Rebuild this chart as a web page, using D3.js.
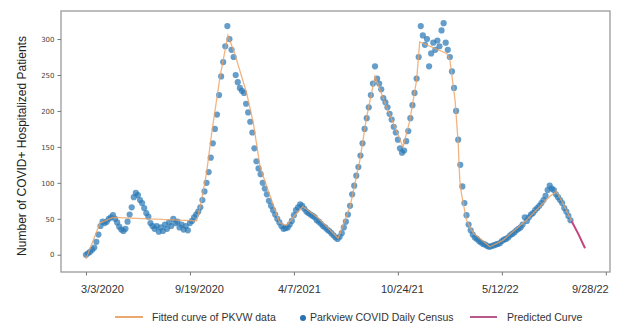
<!DOCTYPE html>
<html>
<head>
<meta charset="utf-8">
<script src="https://cdn.jsdelivr.net/npm/d3@7"></script>
<style>
  html, body { margin: 0; padding: 0; background: #fff; }
  #container { width: 621px; height: 328px; }
</style>
</head>
<body>
<div id="container"></div>
<script>
const width = 621, height = 328;

// --- Data: day index since 3/3/2020 ---
const tickDays = [0, 200, 400, 600, 800, 1000];
const tickLabels = ["3/3/2020", "9/19/2020", "4/7/2021", "10/24/21", "5/12/22", "9/28/22"];
const yTicks = [0, 50, 100, 150, 200, 250, 300];

// Parkview COVID daily census, sampled every 4 days (day 0 .. 932)
const censusStep = 4;
const census = [
  0, 2, 4, 7, 10, 18, 28, 40, 46, 44,
  46, 50, 52, 55, 50, 45, 39, 35, 33, 36,
  46, 56, 66, 80, 86, 83, 76, 72, 65, 58,
  53, 44, 40, 36, 40, 32, 38, 33, 42, 36,
  45, 40, 50, 44, 46, 38, 42, 35, 40, 34,
  44, 47, 52, 56, 60, 66, 76, 88, 100, 115,
  135, 155, 175, 195, 222, 248, 268, 290, 318, 300,
  285, 275, 250, 240, 232, 228, 225, 210, 198, 185,
  170, 148, 130, 120, 112, 100, 92, 84, 75, 68,
  62, 56, 50, 45, 40, 36, 37, 38, 42, 47,
  55, 62, 66, 70, 68, 64, 60, 58, 56, 54,
  52, 48, 46, 43, 40, 38, 35, 33, 30, 27,
  24, 22, 25, 30, 38, 46, 56, 68, 84, 96,
  110, 122, 138, 155, 175, 190, 205, 222, 238, 262,
  245, 238, 230, 218, 212, 205, 196, 188, 178, 170,
  160, 148, 142, 145, 158, 172, 190, 208, 225, 245,
  275, 318, 305, 292, 300, 262, 280, 295, 285, 298,
  290, 312, 322, 295, 285, 275, 255, 232, 200, 160,
  125, 95, 72, 55, 42, 34, 28, 24, 22, 19,
  17, 15, 14, 12, 11, 12, 13, 14, 15, 16,
  19, 21, 22, 24, 27, 29, 31, 34, 36, 38,
  42, 52, 47, 52, 56, 58, 62, 65, 68, 72,
  76, 82, 90, 96, 92, 90, 84, 80, 76, 72,
  65, 60, 54, 48
];

// Fitted curve of PKVW data (knots: day, patients)
const fitDays = [0, 27, 52, 213, 222, 232, 242, 258, 273, 286, 309, 322, 335, 350, 373, 386, 417, 444, 485, 508, 527, 540, 556, 578, 610, 623, 636, 642, 694, 700, 710, 716, 719, 722, 732, 745, 777, 802, 847, 892, 905, 918, 934];
const fitVals = [-6, 44, 52, 47, 75, 114, 170, 248, 305, 280, 225, 183, 122, 90, 44, 41, 67, 53, 23, 67, 132, 192, 248, 206, 150, 187, 243, 296, 280, 271, 215, 155, 104, 86, 48, 30, 11, 20, 48, 81, 88, 71, 47];

// Predicted curve
const predDays = [934, 947, 960];
const predVals = [47, 29, 9];

// --- Layout ---
const plot = { left: 61, right: 610, top: 11, bottom: 272 };
const labelShift = [16, 9, 5, 4, -2, -16];

const svg = d3.select("#container").append("svg")
  .attr("width", width).attr("height", height)
  .style("font-family", "'Liberation Sans', Arial, sans-serif");

const x = d3.scaleLinear().domain([-48, 1008]).range([plot.left, plot.right]);
const y = d3.scaleLinear().domain([-24, 339]).range([plot.bottom, plot.top]);

// --- Census dots ---
svg.append("g").selectAll("circle")
  .data(census)
  .join("circle")
  .attr("cx", (d, i) => x(i * censusStep))
  .attr("cy", d => y(d))
  .attr("r", 3.1)
  .attr("fill", "#2a78b6")
  .attr("fill-opacity", 0.72);

// --- Fitted line ---
const line = d3.line().x(d => x(d[0])).y(d => y(d[1]));
svg.append("path")
  .datum(fitDays.map((d, i) => [d, fitVals[i]]))
  .attr("d", line)
  .attr("fill", "none")
  .attr("stroke", "#f0a060")
  .attr("stroke-opacity", 0.8)
  .attr("stroke-width", 1.3);

svg.append("path")
  .datum(predDays.map((d, i) => [d, predVals[i]]))
  .attr("d", line)
  .attr("fill", "none")
  .attr("stroke", "#c2457f")
  .attr("stroke-width", 2);

// --- Frame ---
svg.append("rect")
  .attr("x", plot.left).attr("y", plot.top)
  .attr("width", plot.right - plot.left).attr("height", plot.bottom - plot.top)
  .attr("fill", "none").attr("stroke", "#9a9a9a").attr("stroke-width", 1.3);

// --- Y axis ---
const yAxis = svg.append("g")
  .attr("transform", `translate(${plot.left},0)`)
  .call(d3.axisLeft(y).tickValues(yTicks).tickSize(3.5).tickPadding(3));
yAxis.select(".domain").remove();
yAxis.selectAll("line").attr("stroke", "#777");
yAxis.selectAll("text").attr("fill", "#444")
  .style("font-family", "'DejaVu Sans', sans-serif").style("font-size", "7px");

// --- X axis ---
const xAxis = svg.append("g")
  .attr("transform", `translate(0,${plot.bottom})`)
  .call(d3.axisBottom(x).tickValues(tickDays).tickSize(3.5)
    .tickFormat((d, i) => tickLabels[i]));
xAxis.select(".domain").remove();
xAxis.selectAll("line").attr("stroke", "#777");
xAxis.selectAll("text")
  .attr("fill", "#333")
  .attr("y", 13)
  .attr("dx", (d, i) => labelShift[i])
  .style("font-size", "11px");

// --- Y label ---
svg.append("text")
  .attr("transform", `translate(26,146) rotate(-90)`)
  .attr("text-anchor", "middle")
  .attr("fill", "#222")
  .style("font-size", "12px")
  .text("Number of COVID+ Hospitalized Patients");

// --- Legend ---
const ly = 317;
const legend = svg.append("g").style("font-size", "10.5px").attr("fill", "#333");
legend.append("line").attr("x1", 115).attr("x2", 143).attr("y1", ly).attr("y2", ly)
  .attr("stroke", "#e8a870").attr("stroke-width", 2);
legend.append("text").attr("x", 152).attr("y", ly).attr("dy", "0.35em")
  .text("Fitted curve of PKVW data");
legend.append("circle").attr("cx", 303).attr("cy", ly + 1).attr("r", 3)
  .attr("fill", "#2a72b0");
legend.append("text").attr("x", 310).attr("y", ly).attr("dy", "0.35em")
  .text("Parkview COVID Daily Census");
legend.append("line").attr("x1", 470).attr("x2", 497).attr("y1", ly).attr("y2", ly)
  .attr("stroke", "#b9588c").attr("stroke-width", 2);
legend.append("text").attr("x", 507).attr("y", ly).attr("dy", "0.35em")
  .text("Predicted Curve");
</script>
</body>
</html>
